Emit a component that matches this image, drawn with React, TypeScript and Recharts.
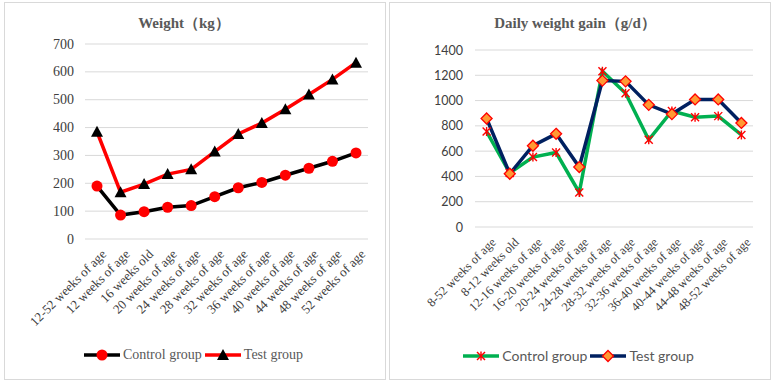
import { LineChart, Line, XAxis, YAxis, CartesianGrid } from 'recharts'

// Weight chart
const weightAges = [
  '12-52 weeks of age',
  '12 weeks of age',
  '16 weeks old',
  '20 weeks of age',
  '24 weeks of age',
  '28 weeks of age',
  '32 weeks of age',
  '36 weeks of age',
  '40 weeks of age',
  '44 weeks of age',
  '48 weeks of age',
  '52 weeks of age'
]
const weightControl = [190, 86, 98, 114, 120, 152, 184, 203, 229, 254, 279, 309]
const weightTest = [385, 168, 197, 233, 250, 314, 377, 416, 466, 519, 573, 633]
const weightTicks = [0, 100, 200, 300, 400, 500, 600, 700]

// Daily gain chart
const gainPeriods = [
  '8-52 weeks of age',
  '8-12 weeks old',
  '12-16 weeks of age',
  '16-20 weeks of age',
  '20-24 weeks of age',
  '24-28 weeks of age',
  '28-32 weeks of age',
  '32-36 weeks of age',
  '36-40 weeks of age',
  '40-44 weeks of age',
  '44-48 weeks of age',
  '48-52 weeks of age'
]
const gainControl = [755, 428, 553, 589, 273, 1232, 1058, 690, 918, 869, 877, 728]
const gainTest = [858, 421, 643, 737, 474, 1158, 1152, 966, 893, 1009, 1009, 823]
const gainTicks = [0, 200, 400, 600, 800, 1000, 1200, 1400]

const weightData = weightAges.map((age, i) => ({
  age,
  control: weightControl[i],
  test: weightTest[i]
}))
const gainData = gainPeriods.map((age, i) => ({
  age,
  control: gainControl[i],
  test: gainTest[i]
}))

const SERIF = '"Liberation Serif", "Times New Roman", serif'
const SANS = 'Lato, "Liberation Sans", sans-serif'

const boxStyle = (left: number): React.CSSProperties => ({
  position: 'absolute',
  left,
  top: 2,
  width: 382,
  height: 378,
  boxSizing: 'border-box',
  border: '1px solid #d9d9d9',
  background: '#fff'
})

const makeSlantTick = (size: number) => ({ x, y, payload }: any) => (
  <text
    transform={`translate(${x + 10},${y + 16}) rotate(-45)`}
    textAnchor='end'
    fontFamily={SERIF}
    fontSize={size}
    fill='#404040'
  >
    {payload.value}
  </text>
)

const makeYTick = (font: string, size: number, dx: number) => ({ x, y, payload }: any) => (
  <text
    x={x + dx}
    y={y}
    textAnchor='end'
    dominantBaseline='central'
    fontFamily={font}
    fontSize={size}
    fill='#404040'
  >
    {payload.value}
  </text>
)

const Circle = ({ cx, cy, fill }: any) => <circle cx={cx} cy={cy} r={5.5} fill={fill} />
const Triangle = ({ cx, cy, fill }: any) => (
  <path d={`M${cx},${cy - 6} L${cx + 6},${cy + 5} L${cx - 6},${cy + 5} Z`} fill={fill} />
)
const Star = ({ cx, cy }: any) => (
  <g stroke='#ff0000' strokeWidth={1.4}>
    <line x1={cx - 4} y1={cy - 4} x2={cx + 4} y2={cy + 4} />
    <line x1={cx - 4} y1={cy + 4} x2={cx + 4} y2={cy - 4} />
    <line x1={cx} y1={cy - 4.5} x2={cx} y2={cy + 4.5} />
  </g>
)
const Diamond = ({ cx, cy }: any) => (
  <path
    d={`M${cx},${cy - 5.5} L${cx + 5.5},${cy} L${cx},${cy + 5.5} L${cx - 5.5},${cy} Z`}
    fill='#ff9933'
    stroke='#ff0000'
    strokeWidth={1.3}
  />
)

const LegendItem = ({ color, marker, label, font, size }: any) => (
  <span style={{ display: 'inline-flex', alignItems: 'center', marginRight: 3 }}>
    <svg width={36} height={14} style={{ marginRight: 3 }}>
      <line x1={0} y1={7} x2={36} y2={7} stroke={color} strokeWidth={3.5} />
      {marker(18, 7)}
    </svg>
    <span style={{ fontFamily: font, fontSize: size, color: '#595959' }}>{label}</span>
  </span>
)

const legendRow: React.CSSProperties = {
  position: 'absolute',
  left: 0,
  width: 380,
  top: 344,
  display: 'flex',
  justifyContent: 'center'
}

const titleStyle = (center: number): React.CSSProperties => ({
  position: 'absolute',
  left: center,
  top: 11,
  transform: 'translateX(-50%)',
  whiteSpace: 'nowrap',
  fontFamily: SERIF,
  fontWeight: 'bold',
  fontSize: 15,
  color: '#595959'
})

export default function App() {
  return (
    <div style={{ position: 'absolute', left: 0, top: 0, width: 772, height: 382, background: '#fff' }}>
      <div style={boxStyle(4)}>
        <div style={titleStyle(179)}>Weight（kg）</div>
        <LineChart
          width={380}
          height={376}
          data={weightData}
          margin={{ top: 41, right: 17, bottom: 40, left: 40 }}
        >
          <CartesianGrid vertical={false} stroke='#d9d9d9' />
          <XAxis
            dataKey='age'
            interval={0}
            axisLine={false}
            tickLine={false}
            tickSize={0}
            tickMargin={0}
            height={100}
            padding={{ left: 12, right: 12 }}
            tick={makeSlantTick(13)}
          />
          <YAxis
            domain={[0, 700]}
            ticks={weightTicks}
            width={40}
            axisLine={false}
            tickLine={false}
            tickSize={0}
            tickMargin={0}
            tick={makeYTick(SERIF, 14, -11)}
          />
          <Line
            dataKey='control'
            stroke='#000000'
            strokeWidth={3.5}
            isAnimationActive={false}
            dot={(p: any) => <Circle key={p.index} cx={p.cx} cy={p.cy} fill='#ff0000' />}
          />
          <Line
            dataKey='test'
            stroke='#ff0000'
            strokeWidth={3.5}
            isAnimationActive={false}
            dot={(p: any) => <Triangle key={p.index} cx={p.cx} cy={p.cy} fill='#000000' />}
          />
        </LineChart>
        <div style={legendRow}>
          <LegendItem
            color='#000000'
            marker={(x: number, y: number) => <Circle cx={x} cy={y} fill='#ff0000' />}
            label='Control group'
            font={SERIF}
            size={14}
          />
          <LegendItem
            color='#ff0000'
            marker={(x: number, y: number) => <Triangle cx={x} cy={y} fill='#000000' />}
            label='Test group'
            font={SERIF}
            size={14}
          />
        </div>
      </div>

      <div style={boxStyle(389)}>
        <div style={titleStyle(185)}>Daily weight gain（g/d）</div>
        <LineChart
          width={380}
          height={376}
          data={gainData}
          margin={{ top: 47, right: 17, bottom: 52, left: 45 }}
        >
          <CartesianGrid vertical={false} stroke='#d9d9d9' />
          <XAxis
            dataKey='age'
            interval={0}
            axisLine={false}
            tickLine={false}
            tickSize={0}
            tickMargin={0}
            height={100}
            padding={{ left: 11.6, right: 11.6 }}
            tick={makeSlantTick(12.5)}
          />
          <YAxis
            domain={[0, 1400]}
            ticks={gainTicks}
            width={40}
            axisLine={false}
            tickLine={false}
            tickSize={0}
            tickMargin={0}
            tick={makeYTick(SANS, 12.5, -12)}
          />
          <Line
            dataKey='control'
            stroke='#00b050'
            strokeWidth={3.5}
            isAnimationActive={false}
            dot={(p: any) => <Star key={p.index} cx={p.cx} cy={p.cy} />}
          />
          <Line
            dataKey='test'
            stroke='#002060'
            strokeWidth={3.5}
            isAnimationActive={false}
            dot={(p: any) => <Diamond key={p.index} cx={p.cx} cy={p.cy} />}
          />
        </LineChart>
        <div style={legendRow}>
          <LegendItem
            color='#00b050'
            marker={(x: number, y: number) => <Star cx={x} cy={y} />}
            label='Control group'
            font={SANS}
            size={14}
          />
          <LegendItem
            color='#002060'
            marker={(x: number, y: number) => <Diamond cx={x} cy={y} />}
            label='Test group'
            font={SANS}
            size={14}
          />
        </div>
      </div>
    </div>
  )
}
